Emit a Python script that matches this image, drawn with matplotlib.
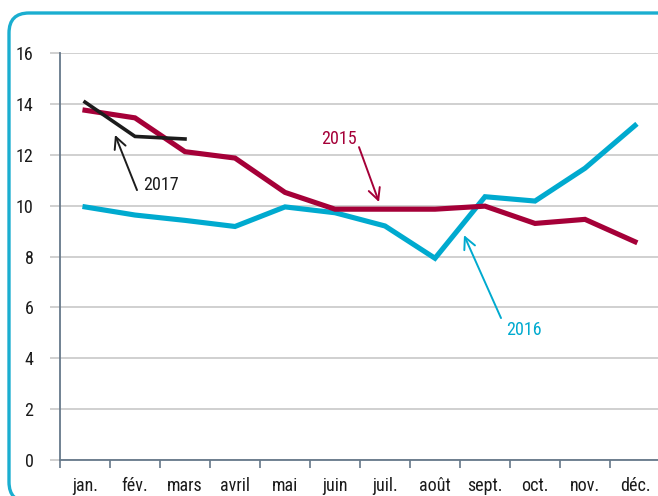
import matplotlib
matplotlib.use("Agg")
import matplotlib.pyplot as plt
from matplotlib.patches import FancyBboxPatch
import numpy as np

plt.rcParams['font.family'] = ['Roboto Condensed', 'DejaVu Sans']

# Data
months = ['jan.', 'fév.', 'mars', 'avril', 'mai', 'juin', 'juil.',
          'août', 'sept.', 'oct.', 'nov.', 'déc.']
y2015 = [13.75, 13.45, 12.12, 11.87, 10.52, 9.86, 9.86, 9.86, 9.98, 9.3, 9.46, 8.58]
y2016 = [9.95, 9.63, 9.42, 9.18, 9.95, 9.72, 9.2, 7.93, 10.35, 10.18, 11.47, 13.15]
y2017 = [14.07, 12.72, 12.62]

c2015 = '#a50038'
c2016 = '#00aacf'
c2017 = '#1c1c1c'
axis_col = '#66788a'
grid_col = '#c4c4c4'
fs = 13

fig = plt.figure(figsize=(6.58, 4.96), dpi=100)

# rounded frame
frame = FancyBboxPatch((0.09, -0.06), 8.0, 4.89,
                       boxstyle='round,pad=0,rounding_size=0.2',
                       transform=fig.dpi_scale_trans, fill=False,
                       edgecolor='#1aaed0', linewidth=2.4, clip_on=False)
fig.patches.append(frame)

ax = fig.add_axes([60 / 658, 36 / 496, 600 / 658, 407 / 496])
x = np.arange(len(months))

ax.plot(x, y2016, color=c2016, lw=3.7, solid_joinstyle='miter', zorder=3)
ax.plot(x, y2015, color=c2015, lw=3.7, solid_joinstyle='miter', zorder=4)
ax.plot(x[:len(y2017)], y2017, color=c2017, lw=2.6, solid_joinstyle='miter', zorder=5)

ax.set_xlim(-0.5, 11.5)
ax.set_ylim(0, 16)
ax.set_yticks(range(0, 17, 2))
ax.yaxis.grid(True, color=grid_col, lw=1.1)
ax.set_axisbelow(True)

ax.set_xticks(x)
ax.set_xticklabels(months)
ax.set_xticks(np.arange(-0.5, 11.5, 1), minor=True)
ax.tick_params(axis='x', which='major', length=0, pad=12, labelsize=fs, colors='#1a1a1a')
ax.tick_params(axis='x', which='minor', length=6, width=1.2, color=axis_col, direction='out')
ax.tick_params(axis='y', length=7, width=1.1, pad=12, labelsize=fs, colors='#1a1a1a')
ax.tick_params(axis='y', which='major', color=grid_col)

for s in ['top', 'right']:
    ax.spines[s].set_visible(False)
ax.spines['left'].set_color(axis_col)
ax.spines['left'].set_linewidth(1.3)
ax.spines['bottom'].set_color(axis_col)
ax.spines['bottom'].set_linewidth(1.3)


def label_arrow(text, txy, tail, head, color, ha='center'):
    ax.text(txy[0], txy[1], text, color=color, fontsize=fs, ha=ha, va='center')
    ax.annotate('', xy=head, xytext=tail,
                arrowprops=dict(arrowstyle='->,head_length=0.6,head_width=0.3',
                                color=color, lw=1.4, shrinkA=0, shrinkB=0,
                                mutation_scale=14))


label_arrow('2017', (1.16, 10.81), (1.04, 10.61), (0.6, 12.78), c2017, ha='left')
label_arrow('2015', (5.07, 12.6), (5.48, 12.3), (5.88, 10.14), c2015)
label_arrow('2016', (8.77, 5.11), (8.32, 5.58), (7.58, 8.84), c2016)

fig.savefig('out.png', dpi=100)
